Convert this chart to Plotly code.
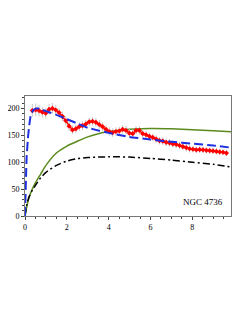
import plotly.graph_objects as go

# Observed rotation curve (red) with error bars
obs_r = [0.35,0.51,0.67,0.83,0.99,1.15,1.31,1.47,1.63,1.79,1.95,2.11,2.27,2.43,2.59,2.75,2.91,3.07,3.23,3.39,
         3.55,3.71,3.87,4.03,4.19,4.35,4.51,4.67,4.83,4.99,5.15,5.31,5.47,5.63,5.79,5.95,6.11,6.27,6.43,6.59,
         6.75,6.91,7.07,7.23,7.39,7.55,7.71,7.87,8.03,8.19,8.35,8.51,8.67,8.83,8.99,9.15,9.31,9.47,9.63]
obs_v = [196,197,196,193,191,198,200,197,192,185,177,167,160,162,166,168,171,175,176,174,
         170,166,161,157,155,157,158,161,159,154,153,159,159,153,151,148,146,143,140,139,
         137,136,134,133,131,129,127,125,124,123,123.5,123,122,121.5,121,120,119,118.5,117]
obs_err = [12,12,11,10,10,10,10,9,9,9,9,9,8,8,8,8,8,8,8,8,
           8,8,8,8,8,8,8,8,8,8,8,8,8,7,7,7,7,7,7,7,
           7,7,7,7,7,7,7,7,6,6,6,6,6,6,6,6,6,6,6]

# Model curve (blue dashed)
blue_r = [0,0.08,0.16,0.27,0.4,0.55,0.7,1.0,1.5,2,2.5,3,3.5,4,4.5,5,6,7,8,9,9.85]
blue_v = [0,110,153,186,197,200,199,195,188,180,172,164,159,154.5,150.5,147,142,138,134.5,131,127]

# Green solid curve
green_r = [0,0.1,0.2,0.35,0.5,0.75,1,1.5,2,2.5,3,3.5,4,4.5,5,6,7,8,9,9.85]
green_v = [0,20,35,50,62,78,94,117,130,139,147,153,157,159.5,161,162.5,162,160.5,158.5,156.5]

# Black dash-dot curve
black_r = [0,0.1,0.2,0.35,0.5,0.75,1,1.5,2,2.5,3,3.5,4,4.5,5,6,7,8,9,9.85]
black_v = [0,24,36,48,57,71,81,94,102,106.5,108.5,109.5,110,110,109.5,107,104,100,96,91]

x_ticks = [0, 2, 4, 6, 8]
y_ticks = [0, 50, 100, 150, 200]
label = "NGC 4736"

fig = go.Figure()
fig.add_trace(go.Scatter(x=green_r, y=green_v, mode="lines", line=dict(color="#5b8a1e", width=1.5, shape="spline", smoothing=0.6)))
fig.add_trace(go.Scatter(x=black_r, y=black_v, mode="lines", line=dict(color="black", width=1.5, dash="7px,3px,2px,3px", shape="spline", smoothing=0.6)))
fig.add_trace(go.Scatter(x=obs_r, y=obs_v, mode="lines+markers",
                         line=dict(color="red", width=1.5),
                         marker=dict(color="red", size=4, symbol="diamond"),
                         error_y=dict(type="data", array=obs_err, color="#c8c8c8", thickness=1, width=0)))
fig.add_trace(go.Scatter(x=blue_r, y=blue_v, mode="lines", line=dict(color="#1f2fe0", width=2, dash="9px,4px", shape="spline", smoothing=0.5)))

fig.add_annotation(x=0.97, y=0.06, xref="paper", yref="paper", text=label, showarrow=False,
                   xanchor="right", yanchor="bottom",
                   font=dict(family="Liberation Serif", size=9, color="black"))

axis_common = dict(showgrid=False, zeroline=False, showline=True, linecolor="#777777", linewidth=1,
                   mirror=True, ticks="outside", ticklen=3, tickcolor="#444444", automargin=False,
                   tickfont=dict(family="Liberation Serif", size=8, color="black"))
fig.update_xaxes(range=[0, 9.85], tickvals=x_ticks, ticktext=[str(t) for t in x_ticks],
                 minor=dict(dtick=0.5, ticks="outside", ticklen=2, tickcolor="#444444"), **axis_common)
fig.update_yaxes(range=[0, 223], tickvals=y_ticks, ticktext=[str(t) for t in y_ticks],
                 minor=dict(dtick=10, ticks="outside", ticklen=2, tickcolor="#444444"), **axis_common)

# page body has an 8px margin; size/margins compensate so the plot area lands at the reference position
fig.update_layout(width=241, height=315, margin=dict(l=17, r=18, t=88, b=107),
                  paper_bgcolor="white", plot_bgcolor="white", showlegend=False)
fig.write_html("out.html")
